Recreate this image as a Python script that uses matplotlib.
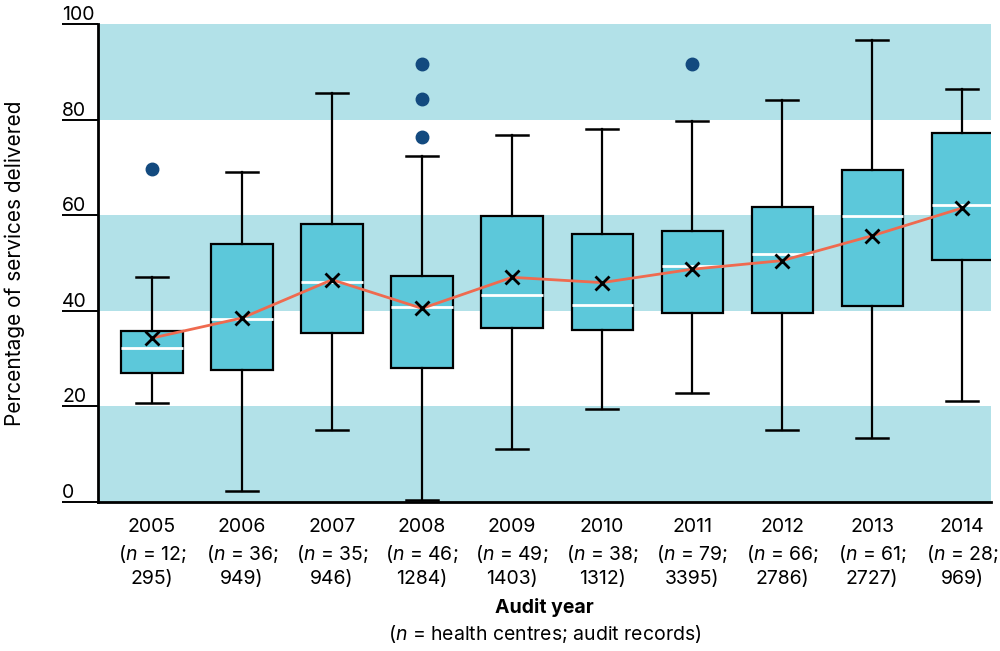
import matplotlib.pyplot as plt

plt.rcParams['font.family'] = ['Inter', 'DejaVu Sans']
plt.rcParams['mathtext.fontset'] = 'custom'
plt.rcParams['mathtext.rm'] = 'Inter'
plt.rcParams['mathtext.it'] = 'Inter:italic'

# data
years = [2005, 2006, 2007, 2008, 2009, 2010, 2011, 2012, 2013, 2014]
centres = [12, 36, 35, 46, 49, 38, 79, 66, 61, 28]
records = [295, 949, 946, 1284, 1403, 1312, 3395, 2786, 2727, 969]
whislo = [20.8, 2.2, 15.0, 0.5, 11.0, 19.4, 22.9, 15.1, 13.4, 21.2]
q1 = [26.9, 27.7, 35.3, 28.0, 36.3, 36.0, 39.6, 39.6, 40.9, 50.6]
med = [32.3, 38.2, 46.0, 40.8, 43.4, 41.2, 49.3, 51.9, 59.9, 62.2]
q3 = [35.8, 54.0, 58.2, 47.3, 59.9, 56.0, 56.8, 61.8, 69.4, 77.2]
whishi = [47.0, 69.1, 85.5, 72.3, 76.8, 78.1, 79.8, 84.0, 96.6, 86.4]
means = [34.3, 38.5, 46.5, 40.5, 47.0, 45.9, 48.7, 50.5, 55.7, 61.5]
outliers = [[69.7], [], [], [91.7, 84.4, 76.4], [], [], [91.7], [], [], []]

band_col = '#b2e1e8'
box_col = '#5cc8da'

fig = plt.figure(figsize=(10, 6.51), dpi=100)
ax = fig.add_axes([0.098, 0.2289, 0.893, 0.7342])

# alternating background bands
for lo, hi in [(0, 20), (40, 60), (80, 100)]:
    ax.axhspan(lo, hi, color=band_col, lw=0, zorder=0)

pos = list(range(len(years)))
stats = []
for i in pos:
    stats.append(dict(whislo=whislo[i], q1=q1[i], med=med[i], q3=q3[i],
                      whishi=whishi[i], fliers=outliers[i]))

ax.bxp(stats, positions=pos, widths=0.68, capwidths=0.36, patch_artist=True,
       showmeans=False,
       boxprops=dict(facecolor=box_col, edgecolor='black', linewidth=1.6),
       whiskerprops=dict(color='black', linewidth=1.6),
       capprops=dict(color='black', linewidth=1.8),
       medianprops=dict(color='white', linewidth=2),
       flierprops=dict(marker='o', markerfacecolor='#134a7f',
                       markeredgecolor='#134a7f', markersize=9),
       zorder=2)

# mean line and markers
ax.plot(pos, means, color='#ef6a4f', lw=2, zorder=4)
ax.plot(pos, means, 'x', color='black', ms=10, mew=2, zorder=5)

ax.set_xlim(-0.6, 9.32)
ax.set_ylim(0, 100)

for s in ['top', 'right']:
    ax.spines[s].set_visible(False)
ax.spines['left'].set_linewidth(2)
ax.spines['bottom'].set_linewidth(2)

ticks = [0, 20, 40, 60, 80, 100]
ax.set_yticks(ticks)
ax.set_yticklabels([])
ax.tick_params(axis='y', length=26, width=1.4, color='black')
for t in ticks:
    ax.annotate(str(t), xy=(0, t), xycoords=('axes fraction', 'data'),
                xytext=(-36, 4), textcoords='offset pixels',
                ha='left', va='baseline', fontsize=14)

labels = []
for y, c, r in zip(years, centres, records):
    labels.append(f"{y}\n($\\it{{n}}$ = {c};\n{r})")
ax.set_xticks(pos)
ax.set_xticklabels(labels, fontsize=14, linespacing=1.4)
ax.tick_params(axis='x', length=0, pad=11.5)

fig.text(0.5445, 0.067, 'Audit year', ha='center', va='center',
         fontsize=14, fontweight='bold')
fig.text(0.5445, 0.026, '($\\it{n}$ = health centres; audit records)',
         ha='center', va='center', fontsize=14)
fig.text(0.015, 0.596, 'Percentage of services delivered', rotation=90,
         ha='center', va='center', fontsize=15)

fig.savefig('out.png', dpi=100)
